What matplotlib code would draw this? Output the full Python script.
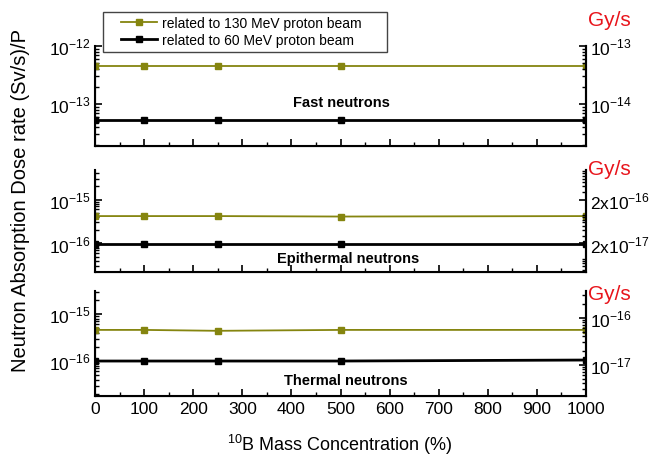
import matplotlib
matplotlib.use('Agg')
import matplotlib.pyplot as plt
import matplotlib.ticker as ticker
from matplotlib.patches import Rectangle

plt.rcParams['font.family'] = ['Liberation Sans', 'DejaVu Sans']
plt.rcParams['mathtext.fontset'] = 'custom'
plt.rcParams['mathtext.rm'] = 'Liberation Sans'
plt.rcParams['axes.unicode_minus'] = False

# data
conc = [0, 100, 250, 500, 1000]
fast_130 = [4.5e-13, 4.5e-13, 4.5e-13, 4.5e-13, 4.5e-13]
fast_60 = [5.3e-14, 5.3e-14, 5.3e-14, 5.3e-14, 5.3e-14]
epi_130 = [4.2e-16, 4.2e-16, 4.2e-16, 4.1e-16, 4.2e-16]
epi_60 = [9.5e-17, 9.5e-17, 9.5e-17, 9.5e-17, 9.5e-17]
th_130 = [4.6e-16, 4.6e-16, 4.4e-16, 4.6e-16, 4.6e-16]
th_60 = [1.0e-16, 1.0e-16, 1.0e-16, 1.0e-16, 1.05e-16]

xticks = [0, 100, 200, 300, 400, 500, 600, 700, 800, 900, 1000]
series_labels = ['related to 130 MeV proton beam', 'related to 60 MeV proton beam']
panel_names = ['Fast neutrons', 'Epithermal neutrons', 'Thermal neutrons']

OLIVE = '#85850f'

W, H = 649, 456
fig = plt.figure(figsize=(W/100, H/100), dpi=100)

def px(x0, y0, x1, y1):
    return [x0/W, 1 - y1/H, (x1 - x0)/W, (y1 - y0)/H]

panels = [
    dict(rect=px(95, 47, 586, 147), ylim=(1.9e-14, 1e-12), fac=0.1,
         y130=fast_130, y60=fast_60,
         lt=[1e-13, 1e-12], ll=[r'$10^{-13}$', r'$10^{-12}$'],
         rt=[1e-14, 1e-13], rl=[r'$10^{-14}$', r'$10^{-13}$'],
         txt=(341, 103), gy=(609, 20)),
    dict(rect=px(95, 171, 586, 273), ylim=(2.24e-17, 4.7e-15), fac=0.2,
         y130=epi_130, y60=epi_60,
         lt=[1e-16, 1e-15], ll=[r'$10^{-16}$', r'$10^{-15}$'],
         rt=[2e-17, 2e-16], rl=[r'$2\mathregular{x}10^{-17}$', r'$2\mathregular{x}10^{-16}$'],
         txt=(348, 259), gy=(609, 170)),
    dict(rect=px(95, 292, 586, 397), ylim=(1.8e-17, 3.1e-15), fac=0.12,
         y130=th_130, y60=th_60,
         lt=[1e-16, 1e-15], ll=[r'$10^{-16}$', r'$10^{-15}$'],
         rt=[1e-17, 1e-16], rl=[r'$10^{-17}$', r'$10^{-16}$'],
         txt=(346, 381), gy=(609, 295)),
]

handles = []
for i, p in enumerate(panels):
    ax = fig.add_axes(p['rect'])
    h1, = ax.plot(conc, p['y130'], '-s', color=OLIVE, lw=1.3, ms=5, label=series_labels[0])
    h2, = ax.plot(conc, p['y60'], '-s', color='black', lw=2.0, ms=5, label=series_labels[1])
    if i == 0:
        handles = [h1, h2]
    ax.set_yscale('log')
    ax.set_ylim(*p['ylim'])
    ax.set_xlim(0, 1000)
    ax.set_xticks(xticks)
    ax.xaxis.set_minor_locator(ticker.MultipleLocator(50))
    ax.yaxis.set_major_locator(ticker.FixedLocator(p['lt']))
    ax.yaxis.set_major_formatter(ticker.FixedFormatter(p['ll']))
    ax.yaxis.set_minor_locator(ticker.LogLocator(base=10, subs=range(2, 10)))
    ax.yaxis.set_minor_formatter(ticker.NullFormatter())
    ax.tick_params(which='both', direction='in', labelsize=12.5)
    ax.tick_params(which='major', length=5, width=1.2)
    ax.tick_params(which='minor', length=3, width=1.0)
    ax.spines['top'].set_visible(False)
    for s in ['left', 'right', 'bottom']:
        ax.spines[s].set_linewidth(1.5)
    if i < 2:
        ax.tick_params(axis='x', labelbottom=False)

    ax2 = ax.twinx()
    ax2.set_yscale('log')
    ax2.set_ylim(p['ylim'][0]*p['fac'], p['ylim'][1]*p['fac'])
    ax2.yaxis.set_major_locator(ticker.FixedLocator(p['rt']))
    ax2.yaxis.set_major_formatter(ticker.FixedFormatter(p['rl']))
    ax2.yaxis.set_minor_locator(ticker.LogLocator(base=10, subs=range(2, 10)))
    ax2.yaxis.set_minor_formatter(ticker.NullFormatter())
    ax2.tick_params(which='both', direction='in', labelsize=12.5, pad=3)
    ax2.tick_params(which='major', length=5, width=1.2)
    ax2.tick_params(which='minor', length=3, width=1.0)
    ax2.spines['top'].set_visible(False)
    ax2.spines['right'].set_linewidth(1.5)

    fig.text(p['txt'][0]/W, 1 - p['txt'][1]/H, panel_names[i], ha='center', va='center',
             fontsize=10.5, fontweight='bold')
    fig.text(p['gy'][0]/W, 1 - p['gy'][1]/H, 'Gy/s', ha='center', va='center',
             fontsize=15, color='#e8141b')

# legend box drawn by hand (it is wider than its text)
fig.patches.append(Rectangle((103/W, 1 - 53/H), 284/W, 40/H, transform=fig.transFigure,
                             facecolor='white', edgecolor='#444444', lw=1.0, zorder=5))
leg = fig.legend(handles=handles, loc='upper left', bbox_to_anchor=(118/W, 1 - 14/H),
                 frameon=False, fontsize=10, handlelength=2.6, borderpad=0.2,
                 labelspacing=0.2, handletextpad=0.4, borderaxespad=0)
leg.set_zorder(6)

fig.text(21/W, 1 - 201/H, 'Neutron Absorption Dose rate (Sv/s)/P', rotation=90,
         ha='center', va='center', fontsize=14.5)
fig.text(340/W, 1 - 445/H, r'$^{10}$B Mass Concentration (%)', ha='center', va='center',
         fontsize=13)

fig.savefig('out.png', dpi=100)
